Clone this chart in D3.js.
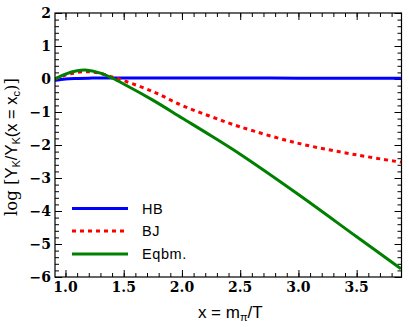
<!DOCTYPE html>
<html>
<head>
<meta charset="utf-8">
<script src="https://cdn.jsdelivr.net/npm/d3@7"></script>
<style>
body { margin: 0; background: #fff; }
</style>
</head>
<body>
<script>
// chart data
var hb_x = [0.91, 0.95, 1.0, 1.1, 1.2, 1.3, 1.6, 2.0, 2.5, 3.0, 3.5, 3.88];
var hb_y = [-0.04, -0.02, 0.0, 0.015, 0.025, 0.03, 0.03, 0.03, 0.03, 0.025, 0.025, 0.02];

var bj_x = [0.91, 1.0, 1.1, 1.2, 1.3, 1.4, 1.5, 1.75, 2.0, 2.25, 2.5, 3.0, 3.5, 3.88];
var bj_y = [0.0, 0.12, 0.2, 0.22, 0.17, 0.06, -0.05, -0.38, -0.8, -1.14, -1.45, -1.95, -2.3, -2.52];

var eq_x = [0.91, 1.0, 1.1, 1.17, 1.3, 1.4, 1.5, 1.75, 2.0, 2.25, 2.5, 3.0, 3.5, 3.88];
var eq_y = [0.0, 0.15, 0.25, 0.27, 0.18, 0.03, -0.15, -0.64, -1.18, -1.72, -2.28, -3.5, -4.78, -5.75];

var x_ticks = [1.0, 1.5, 2.0, 2.5, 3.0, 3.5];
var y_ticks = [2, 1, 0, -1, -2, -3, -4, -5, -6];
var legend_names = ["HB", "BJ", "Eqbm."];

var width = 409, height = 327;
var p_left = 55, p_right = 401.5, p_top = 13, p_bottom = 277;

var svg = d3.select("body").append("svg")
            .attr("width", width)
            .attr("height", height);

var x = d3.scaleLinear().domain([0.91, 3.885]).range([p_left, p_right]);
var y = d3.scaleLinear().domain([-6, 2]).range([p_bottom, p_top]);

// minor ticks
var x_minor = d3.range(10, 39).map(function(d) { return d / 10; });
var y_minor = d3.range(-30, 11).map(function(d) { return d / 5; });

function tickAxis(axis, pos, vals, size) {
    svg.append("g")
       .attr("transform", pos)
       .call(axis.tickValues(vals).tickSize(size).tickFormat(""))
       .call(function(g) {
           g.select(".domain").remove();
           g.selectAll("line").attr("stroke", "black").attr("stroke-width", 1);
       });
}

tickAxis(d3.axisBottom(x), "translate(0," + p_bottom + ")", x_minor, -4);
tickAxis(d3.axisBottom(x), "translate(0," + p_bottom + ")", x_ticks, -7);
tickAxis(d3.axisTop(x), "translate(0," + p_top + ")", x_minor, -4);
tickAxis(d3.axisTop(x), "translate(0," + p_top + ")", x_ticks, -7);
tickAxis(d3.axisLeft(y), "translate(" + p_left + ",0)", y_minor, -4);
tickAxis(d3.axisLeft(y), "translate(" + p_left + ",0)", y_ticks, -7);
tickAxis(d3.axisRight(y), "translate(" + p_right + ",0)", y_minor, -4);
tickAxis(d3.axisRight(y), "translate(" + p_right + ",0)", y_ticks, -7);

// tick labels
var fmtY = function(d) { return d < 0 ? "\u2212" + Math.abs(d) : "" + d; };
svg.append("g").selectAll("text")
   .data(y_ticks).enter().append("text")
   .attr("x", p_left - 4)
   .attr("y", function(d) { return y(d) + 5; })
   .attr("text-anchor", "end")
   .attr("font-family", "DejaVu Serif")
   .attr("font-weight", "bold")
   .attr("font-size", 14)
   .text(fmtY);

svg.append("g").selectAll("text")
   .data(x_ticks).enter().append("text")
   .attr("x", function(d) { return x(d); })
   .attr("y", p_bottom + 15)
   .attr("text-anchor", "middle")
   .attr("font-family", "DejaVu Serif")
   .attr("font-weight", "bold")
   .attr("font-size", 14)
   .text(function(d) { return d.toFixed(1); });

// clip to plot area
svg.append("clipPath").attr("id", "clip")
   .append("rect")
   .attr("x", p_left).attr("y", p_top)
   .attr("width", p_right - p_left).attr("height", p_bottom - p_top);

var line = d3.line()
             .x(function(d) { return x(d[0]); })
             .y(function(d) { return y(d[1]); })
             .curve(d3.curveCatmullRom);

var series = [
    {xs: hb_x, ys: hb_y, color: "#0000ff", dash: null},
    {xs: bj_x, ys: bj_y, color: "#ff0000", dash: "4,4"},
    {xs: eq_x, ys: eq_y, color: "#008000", dash: null}
];

var plot = svg.append("g").attr("clip-path", "url(#clip)");
series.forEach(function(s) {
    plot.append("path")
        .datum(d3.zip(s.xs, s.ys))
        .attr("d", line)
        .attr("fill", "none")
        .attr("stroke", s.color)
        .attr("stroke-width", 3)
        .attr("stroke-dasharray", s.dash);
});

// frame
svg.append("rect")
   .attr("x", p_left).attr("y", p_top)
   .attr("width", p_right - p_left).attr("height", p_bottom - p_top)
   .attr("fill", "none")
   .attr("stroke", "black")
   .attr("stroke-width", 1.2);

// legend
var leg_y = [208.5, 231, 254];
series.forEach(function(s, i) {
    svg.append("line")
       .attr("x1", 72).attr("x2", 128)
       .attr("y1", leg_y[i]).attr("y2", leg_y[i])
       .attr("stroke", s.color)
       .attr("stroke-width", 3)
       .attr("stroke-dasharray", s.dash);
    svg.append("text")
       .attr("x", 142)
       .attr("y", leg_y[i] + 5)
       .attr("font-family", "Liberation Sans")
       .attr("font-size", 14.5)
       .attr("letter-spacing", 0.6)
       .text(legend_names[i]);
});

// axis titles
var xt = svg.append("text")
            .attr("x", (p_left + p_right) / 2 + 2)
            .attr("y", 318)
            .attr("text-anchor", "middle")
            .attr("font-family", "Liberation Sans")
            .attr("font-size", 17);
xt.append("tspan").text("x = m");
xt.append("tspan").attr("baseline-shift", "-25%").attr("font-size", 11).text("\u03c0");
xt.append("tspan").text("/T");

var yt = svg.append("text")
            .attr("transform", "translate(17," + ((p_top + p_bottom) / 2 + 2) + ") rotate(-90)")
            .attr("text-anchor", "middle")
            .attr("font-family", "Liberation Sans")
            .attr("font-size", 16.5);
yt.append("tspan").attr("font-family", "DejaVu Serif").text("log [");
yt.append("tspan").text("Y");
yt.append("tspan").attr("baseline-shift", "-25%").attr("font-size", 11).text("K");
yt.append("tspan").text("/Y");
yt.append("tspan").attr("baseline-shift", "-25%").attr("font-size", 11).text("K");
yt.append("tspan").text("(x = x");
yt.append("tspan").attr("baseline-shift", "-25%").attr("font-size", 11).text("c");
yt.append("tspan").attr("font-family", "DejaVu Serif").text(")]");
</script>
</body>
</html>
